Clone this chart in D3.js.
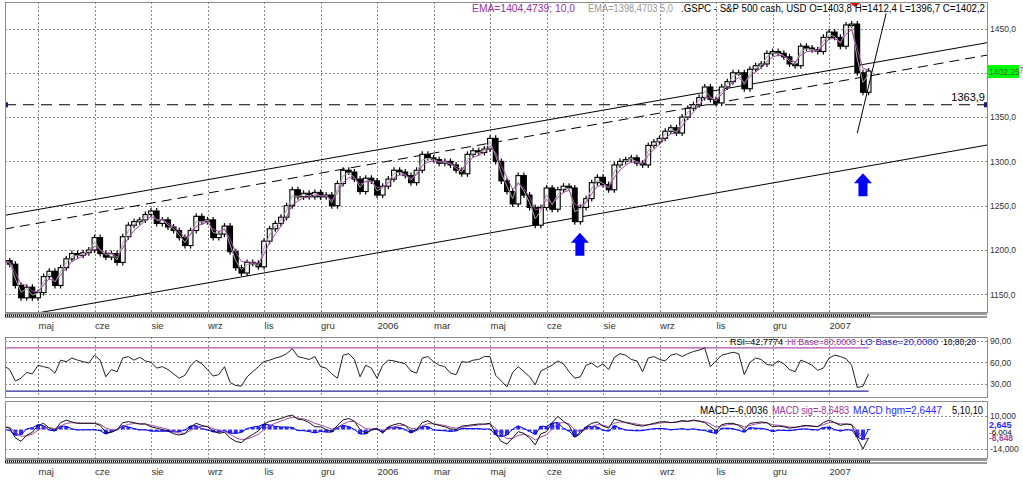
<!DOCTYPE html>
<html lang="pl">
<head>
<meta charset="utf-8">
<title>.GSPC - S&amp;P 500 cash</title>
<script src="https://d3js.org/d3.v7.min.js"></script>
<style>
  body { margin: 0; background: #fff; }
  svg { display: block; font-family: "Liberation Sans", Arial, sans-serif; }
  .grid line { stroke: #8a8a8a; stroke-dasharray: 2,2; shape-rendering: crispEdges; }
  .grid path { display: none; }
  .axis text { font-size: 8.5px; fill: #333; }
  .months text { font-size: 9.5px; fill: #333; }
  .frame { fill: none; stroke: #8c8c8c; stroke-width: 1.2; shape-rendering: crispEdges; }
</style>
</head>
<body>
<script>
// closes, one value every 3 sessions (Apr 2005 - Mar 2007)
var closes = [
  1188, 1184, 1160, 1146, 1158, 1146, 1152, 1170, 1176, 1160,
  1180, 1190, 1196, 1194, 1197, 1200, 1214, 1196, 1192, 1196,
  1186, 1215, 1228, 1232, 1234, 1240, 1244, 1230, 1234, 1226,
  1222, 1214, 1205, 1222, 1238, 1232, 1234, 1214, 1218, 1227,
  1198, 1180, 1174, 1186, 1185, 1181, 1210, 1224, 1230, 1237,
  1250, 1268, 1260, 1264, 1260, 1265, 1260, 1262, 1250, 1275,
  1290, 1288, 1280, 1266, 1281, 1278, 1262, 1272, 1280, 1290,
  1288, 1284, 1276, 1290, 1308, 1304, 1302, 1298, 1300, 1296,
  1290, 1286, 1308, 1312, 1310, 1314, 1326, 1300, 1278, 1266,
  1252, 1284, 1262, 1248, 1228, 1248, 1270, 1246, 1268, 1272,
  1270, 1232, 1248, 1258, 1276, 1282, 1274, 1268, 1296, 1300,
  1302, 1304, 1298, 1296, 1318, 1322, 1326, 1334, 1338, 1332,
  1350, 1360, 1364, 1372, 1384, 1370, 1366, 1384, 1390, 1400,
  1400, 1382, 1404, 1408, 1410, 1422, 1424, 1422, 1418, 1410,
  1408, 1430, 1428, 1426, 1424, 1440, 1446, 1440, 1430, 1454,
  1455, 1400, 1378, 1402
];

var rsi = [
  55, 50, 34, 38, 46, 44, 56, 54, 52, 45,
  63, 61, 66, 63, 61, 59, 70, 63, 40, 50,
  47, 66, 68, 63, 67, 62, 60, 52, 54, 50,
  44, 38, 42, 55, 63, 58, 50, 41, 43, 54,
  32, 28, 27, 40, 47, 54, 61, 63, 66, 68,
  72, 79, 68, 66, 64, 68, 54, 52, 44, 38,
  70, 72, 64, 40, 56, 52, 38, 56, 63, 62,
  60, 58, 48, 45, 66, 68, 61, 56, 54, 45,
  43, 61, 60, 63, 64, 68, 68, 42, 34, 26,
  46, 54, 47, 40, 29, 48, 52, 56, 62, 58,
  47, 38, 40, 56, 59, 53, 58, 50, 67, 72,
  70, 64, 62, 47, 66, 68, 64, 62, 70, 72,
  68, 72, 75, 77, 80, 54, 62, 70, 72, 74,
  72, 43, 60, 66, 64, 57, 56, 62, 58, 50,
  47, 63, 60, 56, 49, 52, 66, 70, 68, 65,
  56, 25, 27, 44
];

var macd = [
  2, 1, -6, -8.5, -4, -2, 3, 4.5, 1, -0.5,
  5, 6.8, 5.5, 4.5, 4.5, 4.5, 4.5, 3, -2, -2,
  0, 5, 5.7, 5, 4, 4, 2, 1, 0, -1,
  -3, -3.9, -3, 2, 4.5, 3, 2, -1, -2.7, -2,
  -6, -8.5, -9.4, -6, -3.5, -1, 4, 6, 6.9, 8,
  9.5, 10.5, 7.5, 6.9, 5, 2, 2, 0, -1.5, 3,
  7, 8, 6, 0, -2.5, 0, 1, -2.7, 2, 3.5,
  4.5, 3, -1.5, 0, 5, 6.4, 4, 3, 2, 0.5,
  0, 2.5, 3, 3.5, 4, 4, 4.5, -3, -8.5, -10.5,
  -6, -1.5, -2.7, -6, -11, -3, -1.5, 5, 9.5, 6,
  3, -5.5, -3, 2, 4.5, 5.5, 2.5, 1, 7.5, 6.5,
  5, 4, 3, 2.5, 3.5, 4.5, 5.5, 5.7, 5, 5.5,
  6.5, 6, 6.9, 6, 5, 2, -1, 3.5, 4.5, 4.5,
  3, 0, 4.5, 5, 5.5, 5, 2, 2.5, 2, 1,
  1.5, 2.5, 3, 2.5, 2, 5, 6.9, 5, 3, 4,
  3.5, -6, -14, -6
];

var monthLabels = ["maj", "cze", "sie", "wrz", "lis", "gru", "2006", "mar",
  "maj", "cze", "sie", "wrz", "lis", "gru", "2007"];
var gridBars = [6, 16, 26, 36, 46, 56, 66, 76, 86, 96, 106, 116, 126, 136, 146];

var priceTicks = [1150, 1200, 1250, 1300, 1350, 1400, 1450];
var hiddenPriceLabel = 1400; // covered by the last-price box
var rsiTicks = [30, 60, 90];
var macdTicks = [-14, 10];

// drawn lines: [bar, price]
var upperLine = [[0, 1239], [174, 1434]];
var middleLine = [[0, 1223.5], [174, 1420]];
var lowerLine = [[6, 1129], [174, 1318.5]];
var steepLine = [[151, 1332], [156.1, 1467]];
var supportLevel = 1363.9;
var arrows = [[101.9, 1219.5], [152, 1286.6]];
var topMarkerBar = 150.6;

var W = 1023, H = 482;
var left = 5, right = 987;
var main = { top: 2, bottom: 312 };
var rsiBox = { top: 337, bottom: 397 };
var macdBox = { top: 401, bottom: 458 };

var svg = d3.select("body").append("svg")
  .attr("width", W)
  .attr("height", H);

var x = d3.scaleLinear().domain([0, closes.length - 1]).range([4.1, 868.6]);
var yP = d3.scaleLinear().domain([1150, 1450]).range([294.3, 28.5]);
var yR = d3.scaleLinear().domain([30, 90]).range([384, 340.7]);
var yM = d3.scaleLinear().domain([-14, 10]).range([449, 415.7]);

// exponential averages (one sample = 3 sessions)
function ema(values, days) {
  var a = 1 - Math.pow(1 - 2 / (days + 1), 3);
  var out = [];
  values.forEach(function (v, i) {
    out.push(i === 0 ? v : out[i - 1] + a * (v - out[i - 1]));
  });
  return out;
}
var ema10 = ema(closes, 10);
var ema5 = ema(closes, 5);
var macdSig = ema(macd, 10);
var macdHist = macd.map(function (v, i) { return v - macdSig[i]; });

function comma(n, d) { return n.toFixed(d).replace(".", ","); }

// text made of coloured pieces, each piece fitted to its width in the picture
function pieces(y, size, parts) {
  parts.forEach(function (p) {
    svg.append("text")
      .attr("x", p[0]).attr("y", y)
      .attr("font-size", size)
      .attr("fill", p[2])
      .attr("textLength", p[1])
      .attr("lengthAdjust", "spacingAndGlyphs")
      .text(p[3]);
  });
}

// clip paths
var defs = svg.append("defs");
[["clipMain", main], ["clipRsi", rsiBox], ["clipMacd", macdBox]].forEach(function (c) {
  defs.append("clipPath").attr("id", c[0]).append("rect")
    .attr("x", left).attr("y", c[1].top)
    .attr("width", right - left).attr("height", c[1].bottom - c[1].top);
});
defs.append("clipPath").attr("id", "clipTail").append("rect")
  .attr("x", 1019).attr("y", 60).attr("width", 4).attr("height", 20);

// vertical grid in every panel
[main, rsiBox, macdBox].forEach(function (b) {
  svg.append("g")
    .attr("class", "grid")
    .attr("transform", "translate(0," + b.top + ")")
    .call(d3.axisBottom(x).tickValues(gridBars).tickSize(b.bottom - b.top).tickFormat(""));
});

// horizontal grid + right labels
function rightAxis(scale, ticks, fmt) {
  var g = svg.append("g")
    .attr("class", "grid axis")
    .attr("transform", "translate(" + right + ",0)")
    .call(d3.axisRight(scale).tickValues(ticks).tickSize(-(right - left)).tickPadding(3).tickFormat(fmt));
  g.selectAll("text").attr("x", 3);
  return g;
}
rightAxis(yP, priceTicks, function (d) { return d === hiddenPriceLabel ? "" : comma(d, 1); });
rightAxis(yR, rsiTicks, function (d) { return comma(d, 2); });
rightAxis(yM, macdTicks, function (d) { return comma(d, 3); });

// ---------- main panel ----------
var gMain = svg.append("g").attr("clip-path", "url(#clipMain)");

var lineP = d3.line().x(function (d) { return x(d[0]); }).y(function (d) { return yP(d[1]); });

gMain.append("path").datum(upperLine).attr("d", lineP)
  .attr("fill", "none").attr("stroke", "#000").attr("stroke-width", 1);
gMain.append("path").datum(middleLine).attr("d", lineP)
  .attr("fill", "none").attr("stroke", "#000").attr("stroke-width", 1)
  .attr("stroke-dasharray", "10,6");
gMain.append("path").datum(lowerLine).attr("d", lineP)
  .attr("fill", "none").attr("stroke", "#000").attr("stroke-width", 1);
gMain.append("line")
  .attr("x1", left).attr("x2", right)
  .attr("y1", yP(supportLevel)).attr("y2", yP(supportLevel))
  .attr("stroke", "#000").attr("stroke-width", 1.1).attr("stroke-dasharray", "11,7");

// candles: open taken as the previous sampled close
function openOf(d, i) { return i > 0 ? closes[i - 1] : d; }
var candles = gMain.append("g").selectAll("g")
  .data(closes)
  .enter().append("g");
candles.append("line")
  .attr("x1", function (d, i) { return x(i); })
  .attr("x2", function (d, i) { return x(i); })
  .attr("y1", function (d, i) { return yP(Math.max(openOf(d, i), d)) - 3; })
  .attr("y2", function (d, i) { return yP(Math.min(openOf(d, i), d)) + 3; })
  .attr("stroke", "#000").attr("stroke-width", 1.2);
candles.append("rect")
  .attr("x", function (d, i) { return x(i) - 2.4; })
  .attr("width", 4.8)
  .attr("y", function (d, i) { return yP(Math.max(openOf(d, i), d)); })
  .attr("height", function (d, i) { return Math.max(1.5, yP(Math.min(openOf(d, i), d)) - yP(Math.max(openOf(d, i), d))); })
  .attr("fill", function (d, i) { return d < openOf(d, i) ? "#000" : "#f4f4f4"; })
  .attr("stroke", "#000").attr("stroke-width", 1.1);

var lineIdx = function (scale) {
  return d3.line().x(function (d, i) { return x(i); }).y(function (d) { return scale(d); });
};
gMain.append("path").datum(ema5).attr("d", lineIdx(yP))
  .attr("fill", "none").attr("stroke", "#a8a8a8").attr("stroke-width", 1);
gMain.append("path").datum(ema10).attr("d", lineIdx(yP))
  .attr("fill", "none").attr("stroke", "#a04aa0").attr("stroke-width", 1);

gMain.append("path").datum(steepLine).attr("d", lineP)
  .attr("fill", "none").attr("stroke", "#000").attr("stroke-width", 1);

// blue arrows
gMain.selectAll(".arrow").data(arrows).enter().append("path")
  .attr("class", "arrow")
  .attr("d", function (d) {
    var cx = x(d[0]), ty = yP(d[1]);
    return "M" + cx + "," + ty + "l9,10h-4.5v13h-9v-13h-4.5z";
  })
  .attr("fill", "#0000ff");

// red marker at the top
var mx = x(topMarkerBar);
gMain.append("path")
  .attr("d", "M" + (mx - 9) + ",0L" + (mx + 9) + ",0L" + mx + ",7Z")
  .attr("fill", "#ff0000");

// level label + end squares
svg.append("text").attr("x", 985).attr("y", yP(supportLevel) - 4)
  .attr("text-anchor", "end").attr("font-size", 11).attr("fill", "#000")
  .text(comma(supportLevel, 1));
[left, right - 3].forEach(function (sx) {
  svg.append("rect").attr("x", sx).attr("y", yP(supportLevel) - 2.5)
    .attr("width", 3).attr("height", 5).attr("fill", "#1a1a80");
});

// last value labels on the price axis (only the tail of the EMA one shows)
svg.append("text").attr("x", 993).attr("y", yP(ema10[ema10.length - 1]) + 3.5)
  .attr("clip-path", "url(#clipTail)")
  .attr("font-size", 8.5).attr("fill", "#a04aa0").text("1404,47");
svg.append("rect").attr("x", 988).attr("y", 65).attr("width", 31).attr("height", 13)
  .attr("fill", "#00ff00");
svg.append("text").attr("x", 989).attr("y", 74.5)
  .attr("font-size", 8.5).attr("fill", "#3a6a3a").text("1402,25");

// header
pieces(12, 10, [
  [472, 103, "#993399", "EMA=1404,4739; 10,0"],
  [588, 85, "#9a9a9a", "EMA=1398,4703 5,0"],
  [681, 304, "#000", ".GSPC - S&P 500 cash, USD O=1403,8 H=1412,4 L=1396,7 C=1402,2"]
]);

// ---------- RSI panel ----------
var gRsi = svg.append("g").attr("clip-path", "url(#clipRsi)");
gRsi.append("line").attr("x1", left).attr("x2", x(closes.length - 1))
  .attr("y1", yR(80)).attr("y2", yR(80)).attr("stroke", "#b050b0").attr("stroke-width", 1.3);
gRsi.append("line").attr("x1", left).attr("x2", x(closes.length - 1))
  .attr("y1", yR(20)).attr("y2", yR(20)).attr("stroke", "#2a2a9a").attr("stroke-width", 1.3);
gRsi.append("path").datum(rsi).attr("d", lineIdx(yR))
  .attr("fill", "none").attr("stroke", "#222").attr("stroke-width", 1);

pieces(344.5, 9.5, [
  [730, 53, "#000", "RSI=42,7774"],
  [787, 69, "#993399", "HI Base=80,0000"],
  [860, 78, "#2a2acc", "LO Base=20,0000"],
  [943, 33, "#000", "10,80,20"]
]);

// ---------- MACD panel ----------
var gMacd = svg.append("g").attr("clip-path", "url(#clipMacd)");
gMacd.selectAll(".hgm").data(macdHist).enter().append("rect")
  .attr("class", "hgm")
  .attr("x", function (d, i) { return x(i) - 2; })
  .attr("width", 4)
  .attr("y", function (d) { return Math.min(yM(0), yM(d)); })
  .attr("height", function (d) { return Math.max(0.8, Math.abs(yM(d) - yM(0))); })
  .attr("fill", "#2a2aff");
gMacd.append("path").datum(macdHist).attr("d", lineIdx(yM))
  .attr("fill", "none").attr("stroke", "#0000ee").attr("stroke-width", 1);
gMacd.append("path").datum(macdSig).attr("d", lineIdx(yM))
  .attr("fill", "none").attr("stroke", "#a04aa0").attr("stroke-width", 1);
gMacd.append("path").datum(macd).attr("d", lineIdx(yM))
  .attr("fill", "none").attr("stroke", "#111").attr("stroke-width", 1);

pieces(413.5, 10, [
  [700, 68, "#000", "MACD=-6,0036"],
  [772, 77, "#993399", "MACD sig=-8,6483"],
  [853, 89, "#2a2aff", "MACD hgm=2,6447"],
  [952, 31, "#000", "5,10,10"]
]);

svg.append("text").attr("x", 989).attr("y", 428).attr("font-size", 9).attr("font-weight", "bold")
  .attr("fill", "#2a2aff").text("2,645");
svg.append("text").attr("x", 989).attr("y", 435).attr("font-size", 8)
  .attr("fill", "#000").text("-6,004");
svg.append("text").attr("x", 989).attr("y", 441).attr("font-size", 8.5).attr("font-weight", "bold")
  .attr("fill", "#a04aa0").text("-8,648");

// ---------- frames and time strips ----------
[main, rsiBox, macdBox].forEach(function (b) {
  svg.append("rect").attr("class", "frame")
    .attr("x", left + 0.5).attr("y", b.top + 0.5)
    .attr("width", right - left).attr("height", b.bottom - b.top);
});

function timeStrip(y0) {
  svg.append("line").attr("x1", left).attr("x2", right).attr("y1", y0).attr("y2", y0)
    .attr("stroke", "#333").attr("stroke-width", 1);
  svg.append("line").attr("x1", left).attr("x2", right).attr("y1", y0 + 3).attr("y2", y0 + 3)
    .attr("stroke", "#333").attr("stroke-width", 1);
  svg.append("line").attr("x1", left).attr("x2", x(closes.length - 1) + 2).attr("y1", y0 + 1.5).attr("y2", y0 + 1.5)
    .attr("stroke", "#000").attr("stroke-width", 2).attr("stroke-dasharray", "1,1");
}
timeStrip(314);
timeStrip(460);

function monthAxis(y0) {
  var g = svg.append("g")
    .attr("class", "months")
    .attr("transform", "translate(0," + y0 + ")")
    .call(d3.axisBottom(x).tickValues(gridBars).tickSize(0).tickPadding(3)
      .tickFormat(function (d, i) { return monthLabels[i]; }));
  g.select(".domain").remove();
  g.selectAll("text").attr("text-anchor", "start");
}
monthAxis(319);
monthAxis(465);
</script>
</body>
</html>
